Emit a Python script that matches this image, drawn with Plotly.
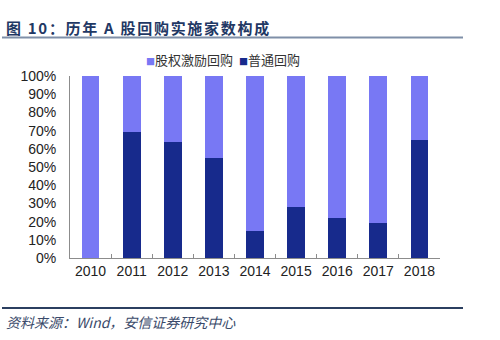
import plotly.graph_objects as go

years = ["2010", "2011", "2012", "2013", "2014", "2015", "2016", "2017", "2018"]
ordinary = [0, 69, 63.5, 55, 15, 28, 22, 19.5, 65]          # 普通回购 (%)
incentive = [100, 31, 36.5, 45, 85, 72, 78, 80.5, 35]       # 股权激励回购 (%)
y_ticks = [0, 10, 20, 30, 40, 50, 60, 70, 80, 90, 100]
y_tick_labels = [f"{v}%" for v in y_ticks]

DARK = "#172a8c"
LIGHT = "#7878f4"
NAVY = "#1f3864"
CJK = "Noto Sans CJK SC, sans-serif"

fig = go.Figure()
fig.add_trace(go.Bar(x=years, y=ordinary, name="普通回购", marker=dict(color=DARK, line=dict(width=0))))
fig.add_trace(go.Bar(x=years, y=incentive, name="股权激励回购", marker=dict(color=LIGHT, line=dict(width=0))))

L, R, T, B = 70, 60, 76, 82
W, H = 500, 340
pw, ph = W - L - R, H - T - B


def px_x(x):
    return (x - L) / pw


def px_y(y):
    return (H - B - y) / ph


def legend_item(x, color, label):
    return dict(
        text=f'<span style="color:{color};font-size:9px">■</span>{label}',
        xref="paper", yref="paper", x=px_x(x), y=px_y(59),
        xanchor="left", yanchor="middle", showarrow=False,
        font=dict(family=CJK, size=13, color="#333333"),
    )


fig.update_layout(
    width=W, height=H,
    margin=dict(l=L, r=R, t=T, b=B, autoexpand=False),
    paper_bgcolor="white", plot_bgcolor="white",
    barmode="stack", bargap=0.57,
    font=dict(family="Liberation Sans, Arial, sans-serif", size=14, color="#222222"),
    showlegend=False,
    xaxis=dict(
        type="category", range=[-0.5, 8.5],
        showline=True, linecolor="#8c8c8c", linewidth=1,
        ticks="inside", tickson="boundaries", ticklen=4, tickcolor="#8c8c8c",
        showgrid=False, tickfont=dict(size=14, color="#222222"),
    ),
    yaxis=dict(
        range=[0, 100], tickvals=y_ticks, ticktext=y_tick_labels,
        showline=True, linecolor="#8c8c8c", linewidth=1,
        ticks="", showgrid=False, zeroline=False,
        ticklabelstandoff=10, tickfont=dict(size=14, color="#222222"),
    ),
    shapes=[
        dict(type="line", xref="paper", yref="paper",
             x0=px_x(2), x1=px_x(463), y0=px_y(37.5), y1=px_y(37.5),
             line=dict(color="#7f8fa8", width=2)),
        dict(type="line", xref="paper", yref="paper",
             x0=px_x(2), x1=px_x(463), y0=px_y(308), y1=px_y(308),
             line=dict(color="#2b3f60", width=2)),
    ],
    annotations=[
        dict(text='<b><span style="letter-spacing:1.7px">图 10：历年 A 股回购实施家数构成</span></b>',
             xref="paper", yref="paper",
             x=px_x(4), y=px_y(27), xanchor="left", yanchor="middle", showarrow=False,
             font=dict(family=CJK, size=15, color=NAVY)),
        dict(text="<i>资料来源：Wind，安信证券研究中心</i>", xref="paper", yref="paper",
             x=px_x(4), y=px_y(322), xanchor="left", yanchor="middle", showarrow=False,
             font=dict(family=CJK, size=14, color="#3a4a6a")),
        legend_item(144, LIGHT, "股权激励回购"),
        legend_item(237, DARK, "普通回购"),
    ],
)

fig.write_html("out.html")
